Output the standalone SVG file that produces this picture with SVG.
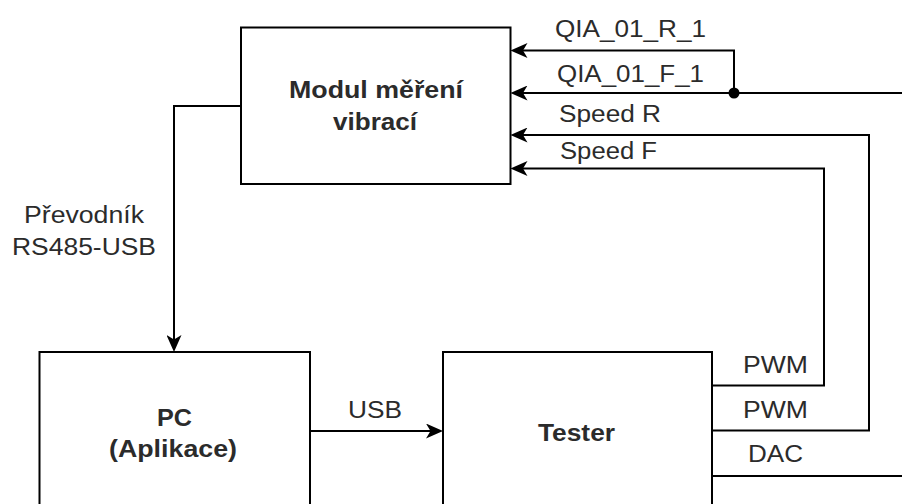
<svg xmlns="http://www.w3.org/2000/svg" width="902" height="504" viewBox="0 0 902 504">
  <style>
    .box { fill: #ffffff; stroke: #000000; stroke-width: 2; }
    .wire { fill: none; stroke: #000000; stroke-width: 2; }
    .t { font-family: "Liberation Sans", Arial, sans-serif; font-size: 23px; fill: #2b2b2b; }
    .b { font-weight: bold; }
  </style>
  <defs>
    <marker id="arr" viewBox="0 0 17 15" markerWidth="17" markerHeight="15" refX="13" refY="7.5" orient="auto" markerUnits="userSpaceOnUse">
      <path d="M0,0 L17,7.5 L0,15 L4.5,7.5 Z" fill="#000000"/>
    </marker>
  </defs>
  <rect width="902" height="504" fill="#ffffff"/>

  <g id="connectors">
    <path class="wire" d="M241,106 H174 V348" marker-end="url(#arr)"/>
    <path class="wire" d="M310,431 H439" marker-end="url(#arr)"/>
    <path class="wire" d="M712,385.5 H824 V168.5 H514.5" marker-end="url(#arr)"/>
    <path class="wire" d="M712,430.5 H869 V135 H514.5" marker-end="url(#arr)"/>
    <path class="wire" d="M712,476 H902"/>
    <path class="wire" d="M902,93 H514.5" marker-end="url(#arr)"/>
    <path class="wire" d="M734,93 V50.5 H514.5" marker-end="url(#arr)"/>
    <circle cx="734" cy="93" r="5.5" fill="#000000"/>
    <text class="t" x="555" y="37" textLength="151" lengthAdjust="spacingAndGlyphs">QIA_01_R_1</text>
    <text class="t" x="557" y="82" textLength="147" lengthAdjust="spacingAndGlyphs">QIA_01_F_1</text>
    <text class="t" x="559" y="122" textLength="102" lengthAdjust="spacingAndGlyphs">Speed R</text>
    <text class="t" x="560" y="159" textLength="97" lengthAdjust="spacingAndGlyphs">Speed F</text>
    <text class="t" x="24" y="223" textLength="120" lengthAdjust="spacingAndGlyphs">Převodník</text>
    <text class="t" x="12" y="255" textLength="144" lengthAdjust="spacingAndGlyphs">RS485-USB</text>
    <text class="t" x="348" y="418" textLength="54" lengthAdjust="spacingAndGlyphs">USB</text>
    <text class="t" x="743" y="373" textLength="65" lengthAdjust="spacingAndGlyphs">PWM</text>
    <text class="t" x="743" y="418" textLength="65" lengthAdjust="spacingAndGlyphs">PWM</text>
    <text class="t" x="748" y="462" textLength="55" lengthAdjust="spacingAndGlyphs">DAC</text>
  </g>

  <g id="modul">
    <rect class="box" x="241" y="27.5" width="269.5" height="156.5"/>
    <text class="t b" x="289" y="98" textLength="174" lengthAdjust="spacingAndGlyphs">Modul měření</text>
    <text class="t b" x="333" y="130" textLength="84" lengthAdjust="spacingAndGlyphs">vibrací</text>
  </g>

  <g id="pc">
    <rect class="box" x="39.5" y="352" width="270.5" height="170"/>
    <text class="t b" x="157" y="425.5" textLength="35" lengthAdjust="spacingAndGlyphs">PC</text>
    <text class="t b" x="109" y="457" textLength="128" lengthAdjust="spacingAndGlyphs">(Aplikace)</text>
  </g>

  <g id="tester">
    <rect class="box" x="443" y="352" width="269" height="170"/>
    <text class="t b" x="538" y="441" textLength="77" lengthAdjust="spacingAndGlyphs">Tester</text>
  </g>
</svg>
